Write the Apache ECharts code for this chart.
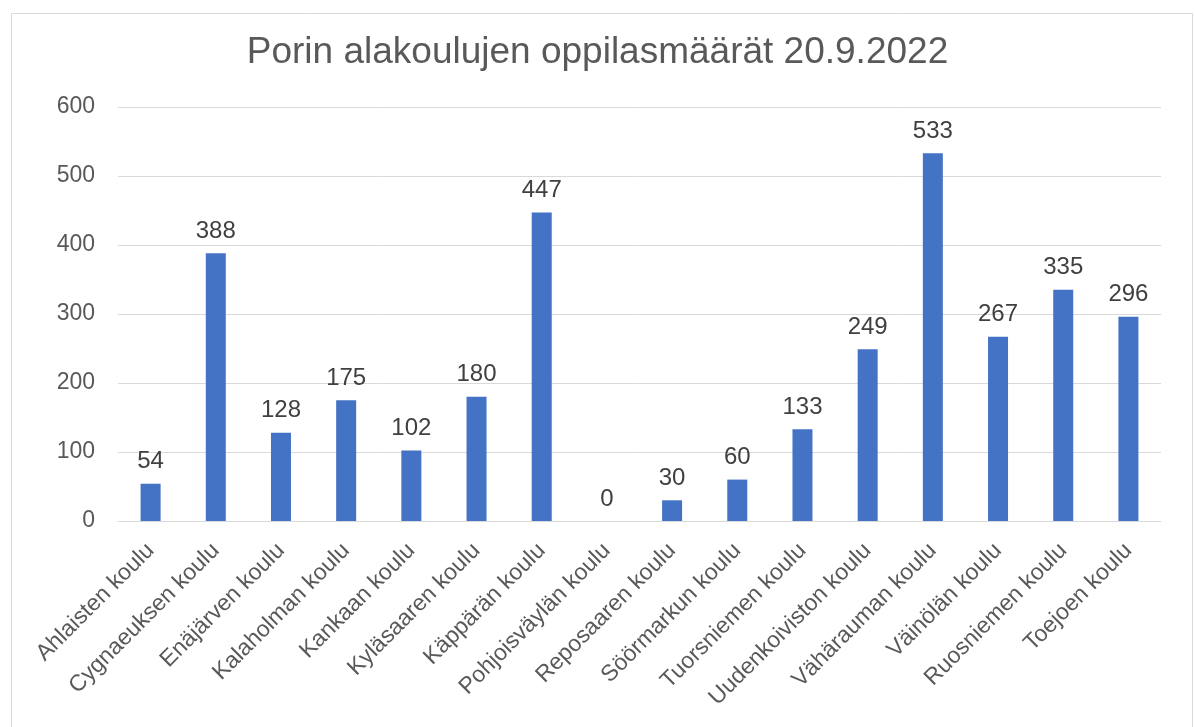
<!DOCTYPE html>
<html><head><meta charset="utf-8">
<script src="https://cdn.jsdelivr.net/npm/echarts@6/dist/echarts.min.js"></script>
<style>html,body{margin:0;padding:0;background:#fff}#c{width:1195px;height:727px}</style>
</head><body><div id="c"></div>
<script>
const title = "Porin alakoulujen oppilasmäärät 20.9.2022";
const categories = ["Ahlaisten koulu","Cygnaeuksen koulu","Enäjärven koulu","Kalaholman koulu","Kankaan koulu","Kyläsaaren koulu","Käppärän koulu","Pohjoisväylän koulu","Reposaaren koulu","Söörmarkun koulu","Tuorsniemen koulu","Uudenkoiviston koulu","Vähärauman koulu","Väinölän koulu","Ruosniemen koulu","Toejoen koulu"];
const values = [54,388,128,175,102,180,447,0,30,60,133,249,533,267,335,296];
const yTicks = {min:0, max:600, interval:100};

const chart = echarts.init(document.getElementById('c'), null, {renderer:'canvas'});
chart.setOption({
  animation:false,
  backgroundColor:'#fff',
  graphic:[{type:'rect', left:9, top:11, shape:{width:1181, height:740}, style:{fill:'none', stroke:'#d9d9d9', lineWidth:1}, silent:true}],
  title:{text:title, left:'center', top:29, textStyle:{fontFamily:'Liberation Sans, Arial', fontSize:37, fontWeight:'normal', color:'#595959'}},
  grid:{left:118, right:34, top:107, bottom:206},
  xAxis:{type:'category', data:categories,
    axisLine:{lineStyle:{color:'#d9d9d9', width:1}}, axisTick:{show:false},
    axisLabel:{rotate:45, interval:0, fontFamily:'Liberation Sans, Arial', fontSize:23, color:'#595959', margin:26}},
  yAxis:{type:'value', min:yTicks.min, max:yTicks.max, interval:yTicks.interval,
    axisLine:{show:false}, axisTick:{show:false},
    splitLine:{lineStyle:{color:'#d9d9d9', width:1}},
    axisLabel:{fontFamily:'Liberation Sans, Arial', fontSize:23, color:'#595959', margin:23}},
  series:[{type:'bar', data:values, barWidth:20, itemStyle:{color:'#4472C4'},
    label:{show:true, position:'top', distance:10, fontFamily:'Liberation Sans, Arial', fontSize:24, color:'#404040'}}]
});
</script></body></html>
